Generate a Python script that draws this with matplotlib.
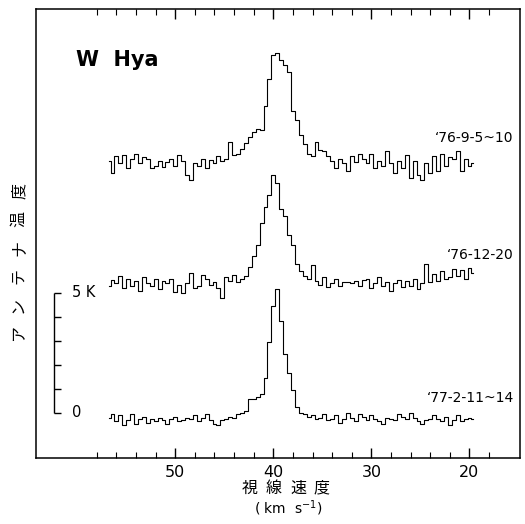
import numpy as np
import matplotlib
matplotlib.use("Agg")
import matplotlib.pyplot as plt

plt.rcParams['font.family'] = ['DejaVu Sans', 'Noto Sans CJK JP']

# velocity channels (km/s), 0.4 km/s wide
vel = 56.8 - 0.4 * np.arange(94)

# antenna temperature (K), one list per epoch
t_7609 = [0.2, -0.3, 0.4, 0.1, 0.45, -0.1, 0.3, 0.5, 0.1, 0.35,
          0.3, -0.1, 0.0, 0.2, -0.05, 0.15, 0.3, 0.0, 0.45, 0.2,
          -0.4, -0.6, 0.1, 0.0, 0.3, -0.1, 0.25, 0.1, 0.4, 0.2,
          0.3, 1.0, 0.45, 0.5, 0.7, 0.95,
          1.2, 1.4, 1.55, 1.5, 2.5, 3.6, 4.6, 4.7, 4.4, 4.2, 3.9, 2.3, 1.9, 1.3,
          0.9, 0.5, 0.4, 1.0, 0.65, 0.6,
          0.4, 0.2, -0.1, 0.3, 0.1, -0.2, 0.4, 0.15, 0.5, 0.3, 0.1, 0.5, -0.1,
          0.2, 0.0, 0.6, 0.1, -0.3, 0.2, -0.1, 0.45, -0.5, 0.2, -0.4, -0.6,
          0.1, -0.3, 0.4, -0.2, 0.5, 0.0, 0.35, 0.3, 0.6, -0.2, 0.3, 0.0, 0.1]

t_7612 = [0.0, 0.25, 0.1, 0.4, -0.1, 0.3, 0.0, 0.2, -0.2, 0.35,
          0.1, 0.0, 0.3, -0.15, 0.2, 0.1, 0.3, -0.25, 0.05, -0.3,
          0.1, 0.55, -0.1, 0.0, 0.45, 0.3, 0.05, 0.15, -0.1, -0.5,
          0.35, 0.2, 0.45, 0.15, 0.3, 0.4,
          0.8, 1.25, 1.7, 2.6, 3.3, 3.8, 4.6, 4.3, 3.2, 2.9, 2.1, 1.7, 0.9, 0.6,
          0.4, 0.3, 0.85,
          0.2, 0.05, 0.35, -0.05, 0.1, 0.3, 0.0, 0.15, 0.15, 0.1, 0.2, 0.0, 0.25,
          0.3, -0.1, 0.1, 0.35, 0.0, 0.15, -0.2, 0.1, 0.25, -0.05, 0.2, 0.0, 0.3,
          -0.15, 0.1, 0.9, 0.15, 0.5, 0.2, 0.6, 0.3, 0.35, 0.7, 0.4, 0.65, 0.3,
          0.75, 0.55]

t_7702 = [0.15, 0.3, 0.0, 0.25, -0.15, 0.05, 0.3, -0.1, 0.1, 0.2,
          -0.05, 0.1, 0.0, 0.15, 0.05, -0.1, 0.1, 0.2, 0.0, 0.05,
          0.15, 0.1, 0.25, 0.0, 0.15, 0.3, 0.05, -0.1, -0.15, 0.05,
          0.1, 0.2, 0.15, 0.3, 0.35, 0.45,
          0.95, 0.95, 1.0, 1.15, 1.8, 3.3, 4.8, 5.5, 4.2, 2.8, 2.0, 1.3, 0.6, 0.35,
          0.3,
          0.2, 0.25, 0.1, 0.15, 0.3, 0.05, 0.1, 0.25, -0.05, 0.1, 0.35, 0.15, 0.0,
          0.3, 0.2, 0.05, 0.25, 0.1, 0.0, -0.1, 0.15, 0.1, 0.05, 0.3, 0.2, 0.1,
          0.35, 0.15, 0.0, -0.1, 0.05, 0.1, 0.25, 0.1, 0.0, 0.2, -0.15, 0.05,
          0.25, 0.0, 0.1, 0.15, 0.1]

spectra = [t_7609, t_7612, t_7702]
dates = ["\u201876-9-5~10", "\u201876-12-20", "\u201877-2-11~14"]
offsets = [10.3, 5.3, -0.35]
label_y = [11.45, 6.6, 0.62]

scale_ticks = [0, 1, 2, 3, 4, 5]

ylabel_chars = ["ア", "ン", "テ", "ナ", "温", "度"]
xlabel_chars = ["視", "線", "速", "度"]

fig = plt.figure(figsize=(5.25, 5.24), dpi=100)
ax = fig.add_axes([36 / 525, 66 / 524, 484 / 525, 449 / 524])

for t, off in zip(spectra, offsets):
    ax.plot(vel, np.array(t) + off, drawstyle='steps-mid', color='black', lw=0.8)

for d, y in zip(dates, label_y):
    ax.text(15.5, y, d, ha='right', va='center', fontsize=10)

ax.text(60.1, 14.7, "W  Hya", ha='left', va='center', fontsize=15, fontweight='bold')

# 5 K scale bar
ax.vlines(62.4, 0, 5, color='black', lw=1)
ax.hlines(scale_ticks, 62.4, 61.6, color='black', lw=1)
ax.text(60.5, 5, "5 K", ha='left', va='center', fontsize=10.5)
ax.text(60.5, 0, "0", ha='left', va='center', fontsize=10.5)

ax.set_xlim(64.2, 14.85)
ax.set_ylim(-1.875, 16.83)
ax.set_yticks([])
ax.set_xticks([50, 40, 30, 20])
ax.set_xticks([v for v in range(58, 17, -2) if v % 10 != 0], minor=True)
ax.tick_params(axis='x', which='both', direction='in', top=True, labelsize=11.5, pad=5)
ax.tick_params(axis='x', which='major', length=7, width=1)
ax.tick_params(axis='x', which='minor', length=4, width=0.8)
for s in ax.spines.values():
    s.set_linewidth(1.1)

# vertical y label, one character at a time, bottom to top
for i, ch in enumerate(ylabel_chars):
    fig.text(19 / 525, 1 - (333 - 28.4 * i) / 524, ch, rotation=90,
             ha='center', va='center', fontsize=11.5, family='Noto Sans CJK JP')
for i, ch in enumerate(xlabel_chars):
    fig.text((250 + 24 * i) / 525, 1 - 488 / 524, ch, ha='center', va='center',
             fontsize=11.5, family='Noto Sans CJK JP')
fig.text(288 / 525, 1 - 508 / 524, "( km  s$^{-1}$)", ha='center', va='center', fontsize=10)

fig.savefig("out.png", dpi=100)
